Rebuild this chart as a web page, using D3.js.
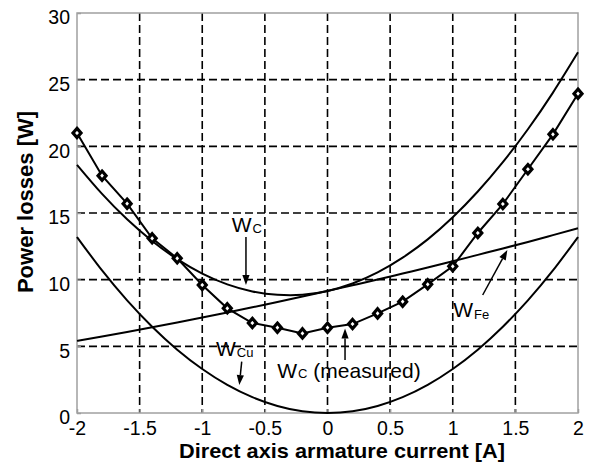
<!DOCTYPE html>
<html>
<head>
<meta charset="utf-8">
<script src="https://cdn.jsdelivr.net/npm/d3@7"></script>
<style>
  html, body { margin: 0; padding: 0; background: #fff; }
  svg { display: block; }
  text { font-family: "Liberation Sans", Arial, Helvetica, sans-serif; fill: #000; }
</style>
</head>
<body>
<svg id="chart" width="592" height="464"></svg>
<script>
// Direct axis current [A] at which losses are given
const current = [-2, -1.8, -1.6, -1.4, -1.2, -1, -0.8, -0.6, -0.4, -0.2, 0,
                 0.2, 0.4, 0.6, 0.8, 1, 1.2, 1.4, 1.6, 1.8, 2];

// Copper losses W_Cu [W]
const copperLoss = [13.2, 10.69, 8.45, 6.47, 4.75, 3.3, 2.11, 1.19, 0.53, 0.13, 0,
                    0.13, 0.53, 1.19, 2.11, 3.3, 4.75, 6.47, 8.45, 10.69, 13.2];

// Iron losses W_Fe [W]
const ironLoss = [5.41, 5.74, 6.08, 6.43, 6.79, 7.16, 7.54, 7.93, 8.33, 8.73, 9.15,
                  9.58, 10.01, 10.46, 10.91, 11.38, 11.86, 12.34, 12.83, 13.34, 13.85];

// Calculated total losses W_C [W]
const totalLoss = [18.61, 16.43, 14.53, 12.9, 11.54, 10.46, 9.65, 9.12, 8.86, 8.86, 9.15,
                   9.71, 10.54, 11.65, 13.02, 14.68, 16.61, 18.81, 21.28, 24.03, 27.05];

// Measured total losses W_C [W]
const measuredLoss = [21.0, 17.8, 15.7, 13.1, 11.6, 9.6, 7.85, 6.75, 6.4, 5.97, 6.4,
                      6.67, 7.47, 8.35, 9.65, 11.0, 13.5, 15.67, 18.28, 20.9, 23.95];

const xTicks = [-2, -1.5, -1, -0.5, 0, 0.5, 1, 1.5, 2];
const yTicks = [0, 5, 10, 15, 20, 25, 30];

// Curve labels with arrows, in data units
const labels = [
  { main: "W", sub: "C",  rest: "",            x: -0.765, y: 13.55, subDy: 1,
    from: [-0.651, 13.2], to: [-0.651, 9.6] },
  { main: "W", sub: "Cu", rest: "",            x: -0.89,  y: 4.27,  subDy: 1,
    from: [-0.685, 3.85], to: [-0.704, 2.1] },
  { main: "W", sub: "C",  rest: " (measured)", x: -0.401, y: 2.6,   subDy: 0,
    from: [0.14, 3.97],   to: [0.14, 6.34] },
  { main: "W", sub: "Fe", rest: "",            x: 1.004,  y: 7.18,  subDy: 2,
    from: [1.239, 8.85],  to: [1.436, 12.23] }
];

const svg = d3.select("#chart");
const margin = { left: 77, right: 14, top: 13, bottom: 51 };
const W = +svg.attr("width"), H = +svg.attr("height");

const x = d3.scaleLinear().domain([-2, 2]).range([margin.left, W - margin.right]);
const y = d3.scaleLinear().domain([0, 30]).range([H - margin.bottom, margin.top]);

svg.append("rect").attr("width", W).attr("height", H).attr("fill", "#fff");

// Dashed grid
const grid = svg.append("g")
  .attr("stroke", "#000").attr("stroke-width", 1.6).attr("stroke-dasharray", "8,4");
grid.selectAll("line.v").data(xTicks.slice(1, -1)).join("line")
  .attr("class", "v")
  .attr("x1", d => x(d)).attr("x2", d => x(d))
  .attr("y1", y(30)).attr("y2", y(0));
grid.selectAll("line.h").data(yTicks.slice(1, -1)).join("line")
  .attr("class", "h")
  .attr("x1", x(-2)).attr("x2", x(2))
  .attr("y1", d => y(d)).attr("y2", d => y(d));

// Axes
const yAxis = svg.append("g")
  .attr("transform", `translate(${x(-2)},0)`)
  .call(d3.axisLeft(y).tickValues(yTicks).tickSize(-4).tickPadding(7).tickFormat(d3.format("d")));
const xAxis = svg.append("g")
  .attr("transform", `translate(0,${y(0)})`)
  .call(d3.axisBottom(x).tickValues(xTicks).tickSize(-4).tickPadding(8).tickFormat(d => String(d)));

[xAxis, yAxis].forEach(a => {
  a.select(".domain").remove();
  a.selectAll(".tick line").attr("stroke", "#999").attr("stroke-width", 1.5);
  a.selectAll(".tick text").attr("font-size", 19.5).attr("fill", "#000")
    .style("font-family", '"Liberation Sans", Arial, sans-serif');
});
yAxis.selectAll(".tick text").attr("dy", "0.55em");
xAxis.selectAll(".tick text").attr("dy", "0.71em");

// Frame
svg.append("rect")
  .attr("x", x(-2)).attr("y", y(30))
  .attr("width", x(2) - x(-2)).attr("height", y(0) - y(30))
  .attr("fill", "none").attr("stroke", "#a0a0a0").attr("stroke-width", 1.5);

// Model curves
const smoothLine = d3.line().x(d => x(d[0])).y(d => y(d[1])).curve(d3.curveNatural);
[copperLoss, ironLoss, totalLoss].forEach(series => {
  svg.append("path")
    .datum(current.map((c, i) => [c, series[i]]))
    .attr("fill", "none").attr("stroke", "#000").attr("stroke-width", 2)
    .attr("d", smoothLine);
});

// Measured losses: polyline with diamond markers
const measured = current.map((c, i) => [c, measuredLoss[i]]);
svg.append("path")
  .datum(measured)
  .attr("fill", "none").attr("stroke", "#000").attr("stroke-width", 2)
  .attr("d", d3.line().x(d => x(d[0])).y(d => y(d[1])));
svg.selectAll("path.diamond").data(measured).join("path")
  .attr("class", "diamond")
  .attr("transform", d => `translate(${x(d[0])},${y(d[1])})`)
  .attr("d", "M0,-4.6L4,0L0,4.6L-4,0Z")
  .attr("fill", "#fff").attr("stroke", "#000").attr("stroke-width", 3.2)
  .attr("stroke-linejoin", "miter");

// Labels and arrows
const ann = svg.append("g");
labels.forEach(l => {
  const t = ann.append("text")
    .attr("x", x(l.x)).attr("y", y(l.y))
    .attr("font-size", 21);
  t.append("tspan").text(l.main);
  t.append("tspan").attr("font-size", 13).attr("dx", 1).attr("dy", l.subDy).text(l.sub);
  if (l.rest) t.append("tspan").attr("font-size", 21).attr("dy", -l.subDy).text(l.rest);

  const x1 = x(l.from[0]), y1 = y(l.from[1]);
  const x2 = x(l.to[0]), y2 = y(l.to[1]);
  const ang = Math.atan2(y2 - y1, x2 - x1);
  const len = 10, half = 3.6;
  const bx = x2 - len * Math.cos(ang), by = y2 - len * Math.sin(ang);
  ann.append("line")
    .attr("x1", x1).attr("y1", y1).attr("x2", bx).attr("y2", by)
    .attr("stroke", "#000").attr("stroke-width", 1.5);
  ann.append("path")
    .attr("d", `M${x2},${y2}L${bx + half * Math.sin(ang)},${by - half * Math.cos(ang)}L${bx - half * Math.sin(ang)},${by + half * Math.cos(ang)}Z`)
    .attr("fill", "#000");
});

// Axis titles
svg.append("text")
  .attr("x", 342).attr("y", 458)
  .attr("text-anchor", "middle").attr("font-size", 21).attr("font-weight", "bold")
  .attr("textLength", 326).attr("lengthAdjust", "spacingAndGlyphs")
  .text("Direct axis armature current [A]");
svg.append("text")
  .attr("transform", "translate(33,202) rotate(-90)")
  .attr("text-anchor", "middle").attr("font-size", 22).attr("font-weight", "bold")
  .text("Power losses [W]");
</script>
</body>
</html>
